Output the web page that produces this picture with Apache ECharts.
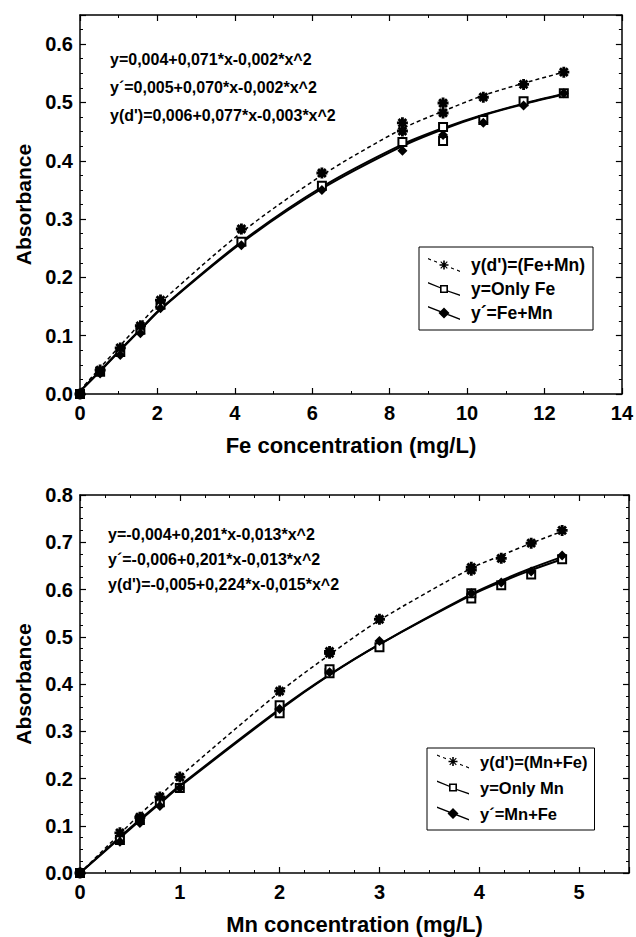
<!DOCTYPE html>
<html><head><meta charset="utf-8">
<script src="https://cdn.jsdelivr.net/npm/echarts@6/dist/echarts.min.js"></script>
<style>html,body{margin:0;padding:0;background:#fff}#c{width:636px;height:937px}</style>
</head><body><div id="c"></div>
<script>
// ---------- Top chart (Fe) ----------
const feFitX      = [0, 0.52, 1.04, 1.56, 2.08, 4.17, 6.25, 8.33, 9.38, 10.42, 11.46, 12.5];
const feFitDmY    = [0.006, 0.045, 0.083, 0.121, 0.157, 0.277, 0.375, 0.455, 0.485, 0.512, 0.533, 0.552];
const feFitOnlyY  = [0.004, 0.039, 0.075, 0.110, 0.145, 0.259, 0.352, 0.425, 0.454, 0.478, 0.497, 0.514];
const feFitMixY   = [0.005, 0.040, 0.076, 0.111, 0.146, 0.261, 0.355, 0.428, 0.456, 0.479, 0.498, 0.515];
const fePtsDm   = [[0,0],[0.52,0.041],[1.04,0.079],[1.56,0.117],[2.08,0.161],[4.17,0.283],[6.25,0.379],[8.33,0.465],[8.33,0.451],[9.38,0.499],[9.38,0.482],[10.42,0.509],[11.46,0.531],[12.5,0.552]];
const fePtsOnly = [[0,0],[0.52,0.038],[1.04,0.072],[1.56,0.110],[2.08,0.153],[4.17,0.261],[6.25,0.357],[8.33,0.432],[9.38,0.458],[9.38,0.434],[10.42,0.470],[11.46,0.502],[12.5,0.516]];
const fePtsMix  = [[0,0],[0.52,0.035],[1.04,0.067],[1.56,0.104],[2.08,0.147],[4.17,0.255],[6.25,0.350],[8.33,0.417],[9.38,0.444],[10.42,0.465],[11.46,0.495],[12.5,0.516]];
const feNames = ["y(d')=(Fe+Mn)", "y=Only Fe", "y\u00b4=Fe+Mn"];
const feEquations = ["y=0,004+0,071*x-0,002*x^2", "y\u00b4=0,005+0,070*x-0,002*x^2", "y(d')=0,006+0,077*x-0,003*x^2"];

// ---------- Bottom chart (Mn) ----------
const mnFitX      = [0, 0.4, 0.6, 0.8, 1.0, 2.0, 2.5, 3.0, 3.92, 4.22, 4.52, 4.83];
const mnFitDmY    = [0, 0.083, 0.124, 0.163, 0.204, 0.383, 0.462, 0.535, 0.645, 0.672, 0.698, 0.723];
const mnFitOnlyY  = [0, 0.076, 0.113, 0.149, 0.185, 0.347, 0.420, 0.484, 0.588, 0.616, 0.641, 0.664];
const mnFitMixY   = [0, 0.074, 0.111, 0.147, 0.183, 0.345, 0.419, 0.484, 0.590, 0.619, 0.645, 0.669];
const mnPtsDm   = [[0,0],[0.4,0.085],[0.6,0.118],[0.8,0.161],[1.0,0.203],[2.0,0.385],[2.5,0.465],[2.5,0.469],[3.0,0.537],[3.92,0.647],[3.92,0.641],[4.22,0.666],[4.52,0.698],[4.83,0.725]];
const mnPtsOnly = [[0,0],[0.4,0.070],[0.6,0.112],[0.8,0.150],[1.0,0.180],[2.0,0.355],[2.0,0.338],[2.5,0.423],[2.5,0.431],[3.0,0.478],[3.92,0.581],[3.92,0.592],[4.22,0.609],[4.52,0.632],[4.83,0.664]];
const mnPtsMix  = [[0,0],[0.4,0.066],[0.6,0.106],[0.8,0.142],[1.0,0.180],[2.0,0.347],[2.5,0.425],[3.0,0.491],[3.92,0.592],[4.22,0.615],[4.52,0.638],[4.83,0.672]];
const mnNames = ["y(d')=(Mn+Fe)", "y=Only Mn", "y\u00b4=Mn+Fe"];
const mnEquations = ["y=-0,004+0,201*x-0,013*x^2", "y\u00b4=-0,006+0,201*x-0,013*x^2", "y(d')=-0,005+0,224*x-0,015*x^2"];

const FONT = 'Liberation Sans';
const zip = (xs, ys) => xs.map((x, i) => [x, ys[i]]);
const STAR = 'path://M-5,-1.3L5,-1.3L5,1.3L-5,1.3ZM-1.3,-5L1.3,-5L1.3,5L-1.3,5Z' +
  'M-4.45,-2.62L-2.62,-4.45L4.45,2.62L2.62,4.45ZM-4.45,2.62L2.62,-4.45L4.45,-2.62L-2.62,4.45Z';

// Slanted legend icons (line sample with marker), box 32 x 14
const LG_LINE_A = 'M0,0L12,4.9L12,6.3L0,1.4Z';
const LG_LINE_B = 'M20,8.4L32,12.6L32,14L20,9.8Z';
const LG_SOLID = 'M0,0L32,12.6L32,14L0,1.4Z';
const ICON_RECT = 'path://' + LG_LINE_A + LG_LINE_B + 'M12,3L20,3L20,11L12,11ZM13.6,4.6L13.6,9.4L18.4,9.4L18.4,4.6Z';
const ICON_DIAMOND = 'path://' + LG_SOLID + 'M16,1.5L21.5,7L16,12.5L10.5,7Z';
const ICON_STAR = 'path://M0,0L3,1.2L3,2.4L0,1.2ZM6,2.4L9,3.6L9,4.8L6,3.6ZM23,9.2L26,10.4L26,11.6L23,10.4ZM29,11.6L32,12.8L32,14L29,12.8Z' +
  'M11.5,6.2L20.5,6.2L20.5,7.8L11.5,7.8ZM15.2,2.5L16.8,2.5L16.8,11.5L15.2,11.5Z' +
  'M12.3,4.1L13.1,3.3L19.7,9.9L18.9,10.7ZM12.3,9.9L18.9,3.3L19.7,4.1L13.1,10.7Z';

const isMult = (v, step) => Math.abs(v / step - Math.round(v / step)) < 1e-6;

function xAxisDef(gi, max, interval, minorSplit, name, pos) {
  const main = pos === 'bottom';
  return {
    type: 'value', gridIndex: gi, min: 0, max: max, interval: interval, position: pos,
    axisLine: { show: true, onZero: false, lineStyle: { color: '#000', width: 1.5 } },
    axisTick: { show: true, inside: true, length: 6, lineStyle: { color: '#000', width: 1.2 } },
    minorTick: { show: true, splitNumber: minorSplit, length: 3, lineStyle: { color: '#000', width: 1 } },
    splitLine: { show: false }, minorSplitLine: { show: false },
    axisLabel: { show: main, margin: 9, color: '#000', fontFamily: FONT, fontWeight: 'bold', fontSize: 20,
      formatter: v => isMult(v, interval) ? String(Math.round(v)) : '' },
    name: main ? name : '', nameLocation: 'middle', nameGap: 40,
    nameTextStyle: { color: '#000', fontFamily: FONT, fontWeight: 'bold', fontSize: 22 }
  };
}
function yAxisDef(gi, max, minorSplit, pos) {
  const main = pos === 'left';
  return {
    type: 'value', gridIndex: gi, min: 0, max: max, interval: 0.1, position: pos,
    axisLine: { show: true, onZero: false, lineStyle: { color: '#000', width: 1.5 } },
    axisTick: { show: true, inside: true, length: 6, lineStyle: { color: '#000', width: 1.2 } },
    minorTick: { show: true, splitNumber: minorSplit, length: 3, lineStyle: { color: '#000', width: 1 } },
    splitLine: { show: false }, minorSplitLine: { show: false },
    axisLabel: { show: main, margin: 7, color: '#000', fontFamily: FONT, fontWeight: 'bold', fontSize: 20,
      formatter: v => isMult(v, 0.1) ? v.toFixed(1) : '' },
    name: main ? 'Absorbance' : '', nameLocation: 'middle', nameGap: 46, nameRotate: 90,
    nameTextStyle: { color: '#000', fontFamily: FONT, fontWeight: 'bold', fontSize: 21 }
  };
}

function fitSeries(name, data, axisIdx, dashed, symbol) {
  return {
    type: 'line', name: name, xAxisIndex: axisIdx, yAxisIndex: axisIdx, data: data,
    smooth: 0.3, symbol: symbol, symbolSize: 9, showSymbol: false, silent: true,
    lineStyle: { color: '#000', width: dashed ? 1.5 : 2, type: dashed ? [4, 3] : 'solid' },
    itemStyle: { color: '#000', borderColor: '#000', borderWidth: 0 }, z: 2
  };
}
function ptsSeries(data, axisIdx, symbol, size) {
  return {
    type: 'scatter', name: '_pts', xAxisIndex: axisIdx, yAxisIndex: axisIdx, data: data,
    symbol: symbol, symbolSize: size, silent: true,
    itemStyle: { color: '#000', borderColor: '#000', borderWidth: symbol === 'emptyRect' ? 1.5 : 0, opacity: 1 }, z: 3
  };
}
function legendDef(names, left, top, pad, gap, fs) {
  const icons = [ICON_STAR, ICON_RECT, ICON_DIAMOND];
  return {
    data: names.map((n, i) => ({ name: n, icon: icons[i] })),
    orient: 'vertical', left: left, top: top, selectedMode: false,
    backgroundColor: '#fff', borderColor: '#000', borderWidth: 1, padding: pad,
    itemWidth: 32, itemHeight: 14, itemGap: gap, inactiveColor: '#000',
    itemStyle: { color: '#000', borderWidth: 0 },
    textStyle: { color: '#000', fontFamily: FONT, fontWeight: 'bold', fontSize: fs, padding: [0, 0, 0, 6] }
  };
}
function eqTexts(lines, x, ys) {
  return lines.map((t, i) => ({
    type: 'text', left: x, top: ys[i] - 9,
    style: { text: t, fill: '#000', font: 'bold 16px "' + FONT + '"' }
  }));
}

const chart = echarts.init(document.getElementById('c'), null, { renderer: 'svg' });
chart.setOption({
  animation: false,
  backgroundColor: '#fff',
  grid: [
    { left: 80, top: 15, width: 543, height: 379 },
    { left: 80, top: 495, width: 549, height: 378 }
  ],
  xAxis: [
    xAxisDef(0, 14, 2, 2, 'Fe concentration (mg/L)', 'bottom'),
    xAxisDef(1, 5.5, 1, 4, 'Mn concentration (mg/L)', 'bottom'),
    xAxisDef(0, 14, 2, 2, '', 'top'),
    xAxisDef(1, 5.5, 1, 4, '', 'top')
  ],
  yAxis: [
    yAxisDef(0, 0.65, 4, 'left'),
    yAxisDef(1, 0.8, 4, 'left'),
    yAxisDef(0, 0.65, 4, 'right'),
    yAxisDef(1, 0.8, 4, 'right')
  ],
  legend: [legendDef(feNames, 419, 247, [9, 8, 8, 9], 6, 17.5), legendDef(mnNames, 427, 748, [5, 7, 8, 10], 9, 16.5)],
  graphic: eqTexts(feEquations, 110, [60, 88, 116]).concat(eqTexts(mnEquations, 108, [535, 560, 585])),
  series: [
    fitSeries(feNames[0], zip(feFitX, feFitDmY), 0, true, STAR),
    fitSeries(feNames[1], zip(feFitX, feFitOnlyY), 0, false, 'emptyRect'),
    fitSeries(feNames[2], zip(feFitX, feFitMixY), 0, false, 'diamond'),
    ptsSeries(fePtsOnly, 0, 'emptyRect', 8),
    ptsSeries(fePtsMix, 0, 'diamond', 10),
    ptsSeries(fePtsDm, 0, STAR, 11),
    fitSeries(mnNames[0], zip(mnFitX, mnFitDmY), 1, true, STAR),
    fitSeries(mnNames[1], zip(mnFitX, mnFitOnlyY), 1, false, 'emptyRect'),
    fitSeries(mnNames[2], zip(mnFitX, mnFitMixY), 1, false, 'diamond'),
    ptsSeries(mnPtsOnly, 1, 'emptyRect', 8),
    ptsSeries(mnPtsMix, 1, 'diamond', 10),
    ptsSeries(mnPtsDm, 1, STAR, 11)
  ]
});
</script></body></html>
